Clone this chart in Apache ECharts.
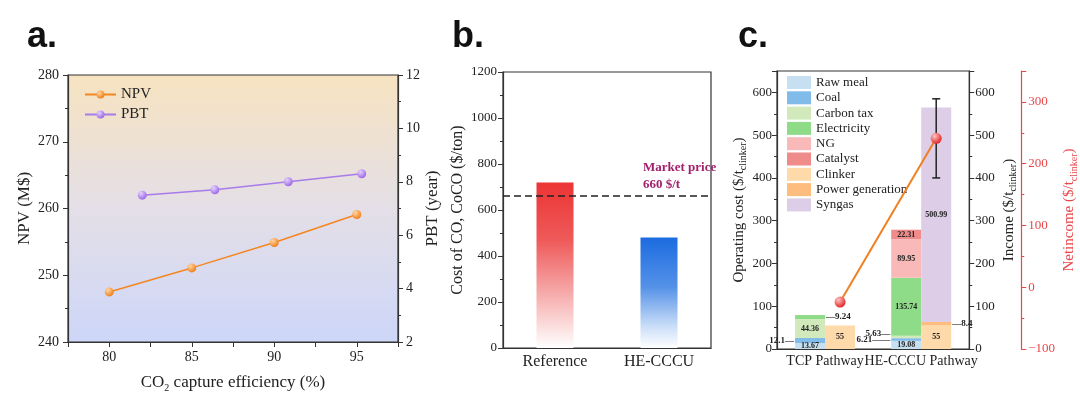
<!DOCTYPE html>
<html>
<head>
<meta charset="utf-8">
<script src="https://cdn.jsdelivr.net/npm/echarts/dist/echarts.min.js"></script>
<style>
  html, body { margin: 0; background: #fff; }
  #main { width: 1080px; height: 399px; }
</style>
</head>
<body>
<div id="main"></div>
<script>
// panel a
const npvX = [80, 85, 90, 95]
const npvY = [247.5, 251.1, 254.9, 259.1]
const pbtX = [82, 86.4, 90.85, 95.3]
const pbtY = [7.5, 7.7, 8.0, 8.3]

// panel b
const coCats = ['Reference', 'HE-CCCU']
const coCost = [720, 480]
const marketPrice = 660

// panel c
const pathways = ['TCP Pathway', 'HE-CCCU Pathway']
const rawMeal = [13.67, 19.08]
const coal = [12.1, 6.21]
const carbonTax = [44.36, 5.63]
const electricity = [9.24, 135.74]
const ng = ['-', 89.95]
const catalyst = ['-', 22.31]
const clinker = [55, 55]
const powerGen = ['-', 8.4]
const syngas = ['-', 500.99]
const errLow = ['-', 400]
const errHigh = ['-', 585]
const netIncome = [-24, 241]

const SERIF = 'Liberation Serif'
const INK = '#222'
const RED = '#e8474a'
const BAR_W = 30

const chart = echarts.init(document.getElementById('main'))

function ball(light, dark) {
  return new echarts.graphic.RadialGradient(0.35, 0.3, 0.75, [
    { offset: 0, color: light },
    { offset: 1, color: dark }
  ])
}

function valAxis(o) {
  return Object.assign({
    type: 'value',
    nameLocation: 'middle',
    nameTextStyle: { fontFamily: SERIF, fontSize: 16, color: INK, lineHeight: 20 },
    axisLine: { show: true, lineStyle: { color: '#333', width: 1.2 } },
    axisTick: { show: true, length: 5, lineStyle: { color: '#333' } },
    minorTick: { show: true, splitNumber: 2, length: 3, lineStyle: { color: '#333' } },
    axisLabel: { fontFamily: SERIF, fontSize: 13, color: INK, margin: 6, formatter: v => String(v) },
    splitLine: { show: false }
  }, o)
}

const subRich = {
  s: { fontFamily: SERIF, fontSize: 10, lineHeight: 10, verticalAlign: 'bottom' }
}

// label styles for the stacked bars
const labelKinds = {
  in: { show: true, position: 'inside', fontSize: 8, formatter: p => p.value },
  left: { show: true, position: 'left', distance: 1, fontSize: 9, formatter: p => p.value + '—' },
  left2: { show: true, position: 'left', distance: 1, fontSize: 9, formatter: p => p.value + '——' },
  leftUp: { show: true, position: 'left', distance: 1, fontSize: 9, offset: [0, -3], formatter: p => p.value + '—' },
  right: { show: true, position: 'right', distance: 1, fontSize: 9, formatter: p => '—' + p.value }
}

const stackDefs = [
  ['Raw meal', rawMeal, '#c6e0f1', 'cost', ['in', 'in']],
  ['Coal', coal, '#80bbea', 'cost', ['left', 'left2']],
  ['Carbon tax', carbonTax, '#d1e9bb', 'cost', ['in', 'leftUp']],
  ['Electricity', electricity, '#8fdc88', 'cost', ['right', 'in']],
  ['NG', ng, '#fab9b9', 'cost', [null, 'in']],
  ['Catalyst', catalyst, '#ef8b8b', 'cost', [null, 'in']],
  ['Clinker', clinker, '#fed9a9', 'income', ['in', 'in']],
  ['Power generation', powerGen, '#fdbd7e', 'income', [null, 'right']],
  ['Syngas', syngas, '#ddcde6', 'income', [null, 'in']]
]

const barSeries = stackDefs.map(([name, vals, color, stack, kinds]) => ({
  name: name,
  type: 'bar',
  xAxisIndex: 2,
  yAxisIndex: 3,
  stack: stack,
  barWidth: BAR_W,
  barGap: '0%',
  itemStyle: { color: color },
  label: { fontFamily: SERIF, fontWeight: 'bold', color: INK },
  data: vals.map((v, i) => ({
    value: v,
    label: kinds[i] ? labelKinds[kinds[i]] : { show: false }
  }))
}))

const letterStyle = { fontFamily: 'Liberation Sans', fontWeight: 'bold', fontSize: 36, color: '#111' }

const option = {
  animation: false,
  backgroundColor: '#fff',
  title: [
    { text: 'a.', left: 22, top: 14, textStyle: letterStyle },
    { text: 'b.', left: 447, top: 14, textStyle: letterStyle },
    { text: 'c.', left: 733, top: 14, textStyle: letterStyle },
    { text: 'Market price\n' + marketPrice + ' $/t', left: 638, top: 154, textStyle: { fontFamily: SERIF, fontWeight: 'bold', fontSize: 13, lineHeight: 17, color: '#a3206b' } }
  ],
  legend: [
    {
      data: ['NPV', 'PBT'],
      orient: 'vertical',
      left: 79, top: 82,
      itemWidth: 31, itemHeight: 10, itemGap: 5,
      textStyle: { fontFamily: SERIF, fontSize: 15, color: INK }
    },
    {
      data: stackDefs.map(d => d[0]),
      orient: 'vertical',
      left: 782, top: 71,
      icon: 'rect',
      itemWidth: 24, itemHeight: 13, itemGap: 2.3,
      textStyle: { fontFamily: SERIF, fontSize: 13, color: INK }
    }
  ],
  grid: [
    {
      left: 68, top: 75, width: 330, height: 267, show: true,
      borderColor: '#333', borderWidth: 1.2,
      backgroundColor: new echarts.graphic.LinearGradient(0, 0, 0, 1, [
        { offset: 0, color: '#f7e3c0' },
        { offset: 0.5, color: '#e4dfe7' },
        { offset: 1, color: '#cdd6f8' }
      ])
    },
    { left: 503, top: 72, width: 208, height: 276, show: true, borderColor: '#333', borderWidth: 1.2 },
    { left: 777, top: 71, width: 197, height: 278, show: true, borderColor: '#333', borderWidth: 1.2 }
  ],
  xAxis: [
    valAxis({
      gridIndex: 0, min: 77.5, max: 97.5, interval: 2.5,
      name: 'CO{s|2} capture efficiency (%)', nameGap: 31,
      nameTextStyle: { fontFamily: SERIF, fontSize: 17, color: INK, lineHeight: 20, rich: subRich },
      minorTick: { show: false },
      axisLabel: { fontFamily: SERIF, fontSize: 14, color: INK, margin: 8, formatter: v => (v % 5 === 0 ? String(v) : '') }
    }),
    {
      type: 'category', gridIndex: 1, data: coCats,
      axisLine: { lineStyle: { color: '#333', width: 1.2 } },
      axisTick: { show: false },
      axisLabel: { fontFamily: SERIF, fontSize: 16, color: INK, margin: 6 }
    },
    {
      type: 'category', gridIndex: 2, data: pathways,
      axisLine: { lineStyle: { color: '#333', width: 1.2 } },
      axisTick: { show: false },
      axisLabel: { fontFamily: SERIF, fontSize: 14, color: INK, margin: 5, interval: 0 }
    }
  ],
  yAxis: [
    valAxis({
      gridIndex: 0, position: 'left', min: 240, max: 280, interval: 10,
      name: 'NPV (M$)', nameGap: 35,
      nameTextStyle: { fontFamily: SERIF, fontSize: 17, color: INK },
      axisLabel: { fontFamily: SERIF, fontSize: 14, color: INK, margin: 9 }
    }),
    valAxis({
      gridIndex: 0, position: 'right', min: 2, max: 12, interval: 2,
      name: 'PBT (year)', nameGap: 26,
      nameTextStyle: { fontFamily: SERIF, fontSize: 17, color: INK },
      axisLabel: { fontFamily: SERIF, fontSize: 14, color: INK, margin: 8 }
    }),
    valAxis({
      gridIndex: 1, position: 'left', min: 0, max: 1200, interval: 200,
      name: 'Cost of CO, CoCO ($/ton)', nameGap: 37,
      nameTextStyle: { fontFamily: SERIF, fontSize: 16, color: INK }
    }),
    valAxis({
      gridIndex: 2, position: 'left', min: 0, max: 650, interval: 100,
      name: 'Operating cost ($/t{s|clinker})', nameGap: 27,
      nameTextStyle: { fontFamily: SERIF, fontSize: 15, color: INK, lineHeight: 20, rich: subRich },
      axisLabel: { fontFamily: SERIF, fontSize: 13, color: INK, margin: 5, showMaxLabel: false, formatter: v => String(v) }
    }),
    valAxis({
      gridIndex: 2, position: 'right', min: 0, max: 650, interval: 100,
      name: 'Income ($/t{s|clinker})', nameGap: 28,
      nameTextStyle: { fontFamily: SERIF, fontSize: 15, color: INK, lineHeight: 20, rich: subRich },
      axisLabel: { fontFamily: SERIF, fontSize: 13, color: INK, margin: 6, showMaxLabel: false, formatter: v => String(v) }
    }),
    valAxis({
      gridIndex: 2, position: 'right', offset: 52, min: -100, max: 350, interval: 100,
      name: 'Netincome ($/t{s|clinker})', nameGap: 33,
      nameTextStyle: {
        fontFamily: SERIF, fontSize: 15, color: RED, lineHeight: 20,
        rich: { s: Object.assign({}, subRich.s, { color: RED }) }
      },
      axisLine: { show: true, lineStyle: { color: RED, width: 1.2 } },
      axisTick: { show: true, length: 5, lineStyle: { color: RED } },
      minorTick: { show: true, splitNumber: 2, length: 3, lineStyle: { color: RED } },
      axisLabel: {
        fontFamily: SERIF, fontSize: 13, color: RED, margin: 7, showMaxLabel: false,
        formatter: v => String(v).replace('-', '\u2212')
      }
    })
  ],
  series: [
    {
      name: 'NPV', type: 'line', xAxisIndex: 0, yAxisIndex: 0,
      data: npvX.map((x, i) => [x, npvY[i]]),
      symbol: 'circle', symbolSize: 9,
      lineStyle: { color: '#f5861f', width: 1.5 },
      itemStyle: { color: ball('#ffd7a8', '#f07a10') }
    },
    {
      name: 'PBT', type: 'line', xAxisIndex: 0, yAxisIndex: 1,
      data: pbtX.map((x, i) => [x, pbtY[i]]),
      symbol: 'circle', symbolSize: 9,
      lineStyle: { color: '#a77be9', width: 1.5 },
      itemStyle: { color: ball('#e4d2ff', '#9a62e6') }
    },
    {
      type: 'bar', xAxisIndex: 1, yAxisIndex: 2, barWidth: 37,
      data: coCost.map((v, i) => ({
        value: v,
        itemStyle: {
          color: new echarts.graphic.LinearGradient(0, 0, 0, 1, i === 0 ? [
            { offset: 0, color: '#ec3434' },
            { offset: 0.35, color: '#ef5a5a' },
            { offset: 0.7, color: '#f7b2b2' },
            { offset: 1, color: '#ffffff' }
          ] : [
            { offset: 0, color: '#1b6be0' },
            { offset: 0.45, color: '#5592e8' },
            { offset: 0.8, color: '#c9ddf8' },
            { offset: 1, color: '#ffffff' }
          ])
        }
      })),
      markLine: {
        silent: true, symbol: 'none',
        label: { show: false },
        lineStyle: { type: [7, 4], color: '#222', width: 1.5 },
        data: [{ yAxis: marketPrice }]
      }
    },
    ...barSeries,
    {
      type: 'custom', xAxisIndex: 2, yAxisIndex: 3, z: 5,
      data: pathways.map((p, i) => [i, errLow[i], errHigh[i]]).filter(d => d[1] !== '-'),
      renderItem: (params, api) => {
        const lo = api.coord([api.value(0), api.value(1)])
        const hi = api.coord([api.value(0), api.value(2)])
        const x = lo[0] + BAR_W / 2
        const st = { stroke: '#222', lineWidth: 1.5 }
        return {
          type: 'group',
          children: [
            { type: 'line', shape: { x1: x, y1: lo[1], x2: x, y2: hi[1] }, style: st },
            { type: 'line', shape: { x1: x - 4, y1: lo[1], x2: x + 4, y2: lo[1] }, style: st },
            { type: 'line', shape: { x1: x - 4, y1: hi[1], x2: x + 4, y2: hi[1] }, style: st }
          ]
        }
      }
    },
    {
      type: 'custom', xAxisIndex: 2, yAxisIndex: 5, z: 10,
      data: netIncome.map((v, i) => [i, v]),
      renderItem: (params, api) => {
        const i = params.dataIndex
        const p = api.coord([api.value(0), api.value(1)])
        const children = []
        if (i < netIncome.length - 1) {
          const q = api.coord([i + 1, netIncome[i + 1]])
          children.push({
            type: 'line',
            shape: { x1: p[0] + BAR_W / 2, y1: p[1], x2: q[0] + BAR_W / 2, y2: q[1] },
            style: { stroke: '#f07f22', lineWidth: 2 }
          })
        }
        children.push({
          type: 'circle',
          shape: { cx: p[0] + BAR_W / 2, cy: p[1], r: 5.5 },
          style: { fill: ball('#ffc4c4', '#e01e1e') },
          z2: 10
        })
        return { type: 'group', children: children }
      }
    }
  ]
}

chart.setOption(option)
</script>
</body>
</html>
